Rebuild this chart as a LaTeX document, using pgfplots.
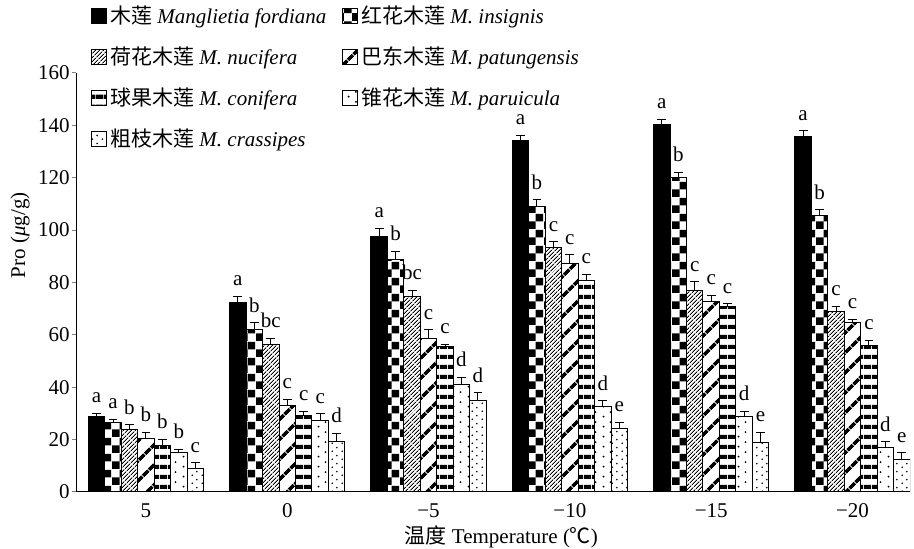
\documentclass[border=0pt]{standalone}
\usepackage{fontspec}
\setmainfont{Liberation Serif}
\newfontfamily\cjk{Noto Sans CJK SC}
\usepackage{pgfplots}
\usepackage{pgfplotstable}
\pgfplotsset{compat=1.18}
\usetikzlibrary{patterns.meta}

% fill patterns of the seven species
\tikzdeclarepattern{name=checker, type=uncolored,
  bottom left={(0pt,0pt)}, top right={(8pt,8pt)}, tile size={(8pt,8pt)},
  code={\fill (0pt,0pt) rectangle (4pt,4pt); \fill (4pt,4pt) rectangle (8pt,8pt);}}
\tikzdeclarepattern{name=finehatch, type=uncolored,
  bottom left={(0pt,0pt)}, top right={(4pt,1.7pt)}, tile size={(4pt,1.7pt)},
  tile transformation={rotate=45},
  code={\fill (0pt,0pt) rectangle (4pt,0.65pt);}}
\tikzdeclarepattern{name=widehatch, type=uncolored,
  bottom left={(0pt,0pt)}, top right={(4pt,7pt)}, tile size={(4pt,7pt)},
  tile transformation={rotate=45},
  code={\fill (0pt,0pt) rectangle (4pt,1.8pt);}}
\tikzdeclarepattern{name=hstripes, type=uncolored,
  bottom left={(0pt,0pt)}, top right={(4pt,5pt)}, tile size={(4pt,5pt)},
  code={\fill (0pt,0pt) rectangle (4pt,2.3pt);}}
\tikzdeclarepattern{name=sparsedots, type=uncolored,
  bottom left={(0pt,0pt)}, top right={(7.5pt,5pt)}, tile size={(7.5pt,5pt)},
  code={\fill (1.875pt,1.25pt) circle (0.55pt); \fill (5.625pt,3.75pt) circle (0.55pt);}}
\tikzdeclarepattern{name=densedots, type=uncolored,
  bottom left={(0pt,0pt)}, top right={(5pt,4pt)}, tile size={(5pt,4pt)},
  code={\fill (1.25pt,1pt) circle (0.5pt); \fill (3.75pt,3pt) circle (0.5pt);}}

% x = group (5, 0, -5, -10, -15, -20 C), y = mean, e = error, l = letter
\pgfplotstableread{
x y e l
0 28.8 1.3 a
1 72.4 2.4 a
2 97.7 3.0 a
3 134.1 2.0 a
4 140.4 1.9 a
5 135.9 2.0 a
}\fordiana
\pgfplotstableread{
x y e l
0 26.5 1.2 a
1 62.2 2.4 b
2 88.8 3.1 b
3 109.2 2.3 b
4 120.0 2.0 b
5 105.5 2.2 b
}\insignis
\pgfplotstableread{
x y e l
0 23.7 2.0 b
1 56.5 2.2 bc
2 74.8 2.3 bc
3 93.4 2.2 c
4 76.9 3.4 c
5 68.9 2.1 c
}\nucifera
\pgfplotstableread{
x y e l
0 20.5 2.2 b
1 33.2 2.2 c
2 58.7 3.2 c
3 87.3 3.2 c
4 72.7 2.3 c
5 64.7 1.2 c
}\patungensis
\pgfplotstableread{
x y e l
0 17.9 2.2 b
1 29.4 1.3 c
2 55.5 1.0 c
3 80.9 2.3 c
4 70.8 1.0 c
5 55.9 2.1 c
}\conifera
\pgfplotstableread{
x y e l
0 15.1 1.3 b
1 27.2 2.6 c
2 41.2 2.6 d
3 32.6 2.2 d
4 28.8 1.9 d
5 17.0 2.2 d
}\paruicula
\pgfplotstableread{
x y e l
0 9.0 2.2 c
1 19.2 3.2 d
2 35.1 2.8 d
3 24.1 2.4 e
4 19.0 3.8 e
5 12.5 2.5 e
}\crassipes

% #1 table, #2 bar shift, #3 fill style, #4 legend text
\newcommand\species[4]{%
  \addplot[sq legend, draw=black, line width=0.5pt, #3, bar shift=#2,
    error bars/.cd, y dir=plus, y explicit,
    error bar style={line width=0.5pt, black},
    error mark options={rotate=90, mark size=2.2pt, line width=0.5pt, black}]
    table[x=x, y=y, y error=e] {#1};
  \addlegendentry{#4}
  \addplot[draw=none, fill=none, bar shift=#2, forget plot,
    nodes near coords, point meta=explicit symbolic,
    every node near coord/.append style={inner sep=0pt, anchor=south, yshift=5pt}]
    table[x=x, y expr=\thisrow{y}+\thisrow{e}, meta=l] {#1};
}

\begin{document}
\fontsize{10.5pt}{12.5pt}\selectfont
\begin{tikzpicture}
\begin{axis}[
  name=ax,
  scale only axis,
  width=417pt, height=209.5pt,
  ybar=0pt, bar width=0.1165,
  xmin=-0.495, xmax=5.407, ymin=0, ymax=160,
  axis x line=bottom, axis y line=left,
  axis line style={-, line width=0.5pt},
  xtick={0,1,2,3,4,5},
  xticklabels={5,0,−5,−10,−15,−20},
  x tick style={draw=none},
  ytick={0,20,...,160},
  tick align=outside, major tick length=2pt,
  y tick style={line width=0.5pt},
  yticklabel style={xshift=2.5pt},
  /pgf/number format/assume math mode=true,
  ylabel={Pro (\textit{μ}g/g)},
  ylabel style={at={(axis description cs:-0.067,0.613)}, anchor=center},
  xlabel={{\cjk 温度} Temperature ({\cjk ℃})},
  xlabel style={at={(axis description cs:0.51,0)}, yshift=-22.5pt, anchor=center},
  sq legend/.style={legend image code/.code={
      \draw[##1] (0pt,-3.7pt) rectangle (7.4pt,3.7pt);}},
  legend columns=2,
  legend cell align=left,
  legend style={at={(rel axis cs:0.018,1.168)}, anchor=north west,
    draw=none, fill=none, row sep=7pt, inner sep=0pt,
    /tikz/every even column/.append style={column sep=6.5pt},
    nodes={inner sep=1.5pt}},
]
\species{\fordiana}{-0.3495}{fill=black}{{\cjk 木莲} \textit{Manglietia fordiana}}
\species{\insignis}{-0.233}{pattern=checker, pattern color=black}{{\cjk 红花木莲} \textit{M. insignis}}
\species{\nucifera}{-0.1165}{pattern=finehatch, pattern color=black}{{\cjk 荷花木莲} \textit{M. nucifera}}
\species{\patungensis}{0}{pattern=widehatch, pattern color=black}{{\cjk 巴东木莲} \textit{M. patungensis}}
\species{\conifera}{0.1165}{pattern=hstripes, pattern color=black}{{\cjk 球果木莲} \textit{M. conifera}}
\species{\paruicula}{0.233}{pattern=sparsedots, pattern color=black}{{\cjk 锥花木莲} \textit{M. paruicula}}
\species{\crassipes}{0.3495}{pattern=densedots, pattern color=black}{{\cjk 粗枝木莲} \textit{M. crassipes}}
\end{axis}
\pgfresetboundingbox
\path ([shift={(-38pt,-28.5pt)}]ax.south west) rectangle ([shift={(2pt,36.5pt)}]ax.north east);
\end{tikzpicture}
\end{document}
